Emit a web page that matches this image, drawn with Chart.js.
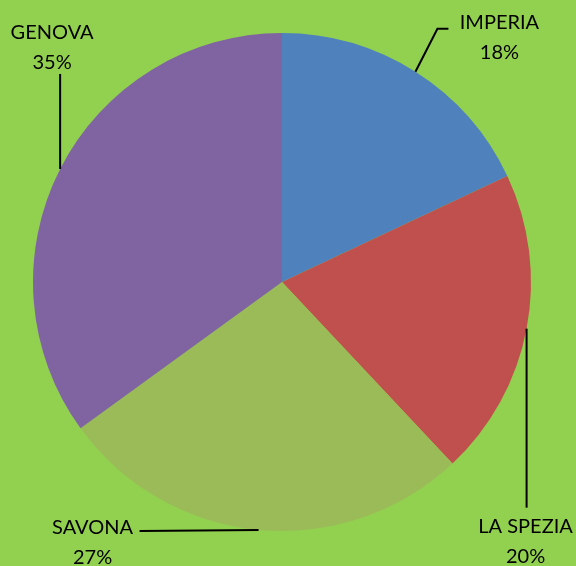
<!DOCTYPE html>
<html>
<head>
<meta charset="utf-8">
<script src="https://cdn.jsdelivr.net/npm/chart.js@4/dist/chart.umd.min.js"></script>
<style>
  html, body { margin: 0; padding: 0; background: #92D050; }
  #wrap { width: 576px; height: 566px; }
</style>
</head>
<body>
<div id="wrap"><canvas id="pieChart" width="576" height="566"></canvas></div>
<script>
const provinces = ["IMPERIA", "LA SPEZIA", "SAVONA", "GENOVA"];
const shares = [18, 20, 27, 35];
const sliceColors = ["#4F81BD", "#C0504D", "#9BBB59", "#8064A2"];

// where each label sits relative to the slice's outer midpoint (leader line elbow + text)
const labelLayout = [
    { elbow: [22, -43], end: [33, -43], text: [84, -49] },
    { elbow: [0, 179], end: [0, 179], text: [-1, 198] },
    { elbow: [-119, 1], end: [-119, 1], text: [-166, -2] },
    { elbow: [0, -95], end: [0, -95], text: [-8, -136] },
];

const leaderLabels = {
    id: "leaderLabels",
    afterDatasetsDraw(chart) {
        const ctx = chart.ctx;
        const meta = chart.getDatasetMeta(0);
        const total = shares.reduce((a, b) => a + b, 0);
        ctx.save();
        meta.data.forEach((arc, i) => {
            const p = arc.getProps(["x", "y", "startAngle", "endAngle", "outerRadius"], true);
            const mid = (p.startAngle + p.endAngle) / 2;
            const ax = p.x + Math.cos(mid) * p.outerRadius;
            const ay = p.y + Math.sin(mid) * p.outerRadius;
            const lay = labelLayout[i];
            ctx.strokeStyle = "#000";
            ctx.lineWidth = 2;
            ctx.beginPath();
            ctx.moveTo(ax, ay);
            ctx.lineTo(ax + lay.elbow[0], ay + lay.elbow[1]);
            ctx.lineTo(ax + lay.end[0], ay + lay.end[1]);
            ctx.stroke();
            const tx = ax + lay.text[0];
            const ty = ay + lay.text[1];
            ctx.fillStyle = "#000";
            ctx.font = "20px Lato, 'Open Sans', sans-serif";
            ctx.textAlign = "center";
            ctx.textBaseline = "middle";
            ctx.fillText(provinces[i], tx, ty);
            ctx.fillText(Math.round(shares[i] / total * 100) + "%", tx, ty + 30);
        });
        ctx.restore();
    },
};

new Chart(document.getElementById("pieChart").getContext("2d"), {
    type: "pie",
    data: {
        labels: provinces,
        datasets: [{
            data: shares,
            backgroundColor: sliceColors,
            borderWidth: 0,
        }],
    },
    options: {
        responsive: false,
        animation: false,
        layout: { padding: { left: 33, top: 33, right: 45, bottom: 35 } },
        plugins: { legend: { display: false }, tooltip: { enabled: false } },
    },
    plugins: [leaderLabels],
});
</script>
</body>
</html>
